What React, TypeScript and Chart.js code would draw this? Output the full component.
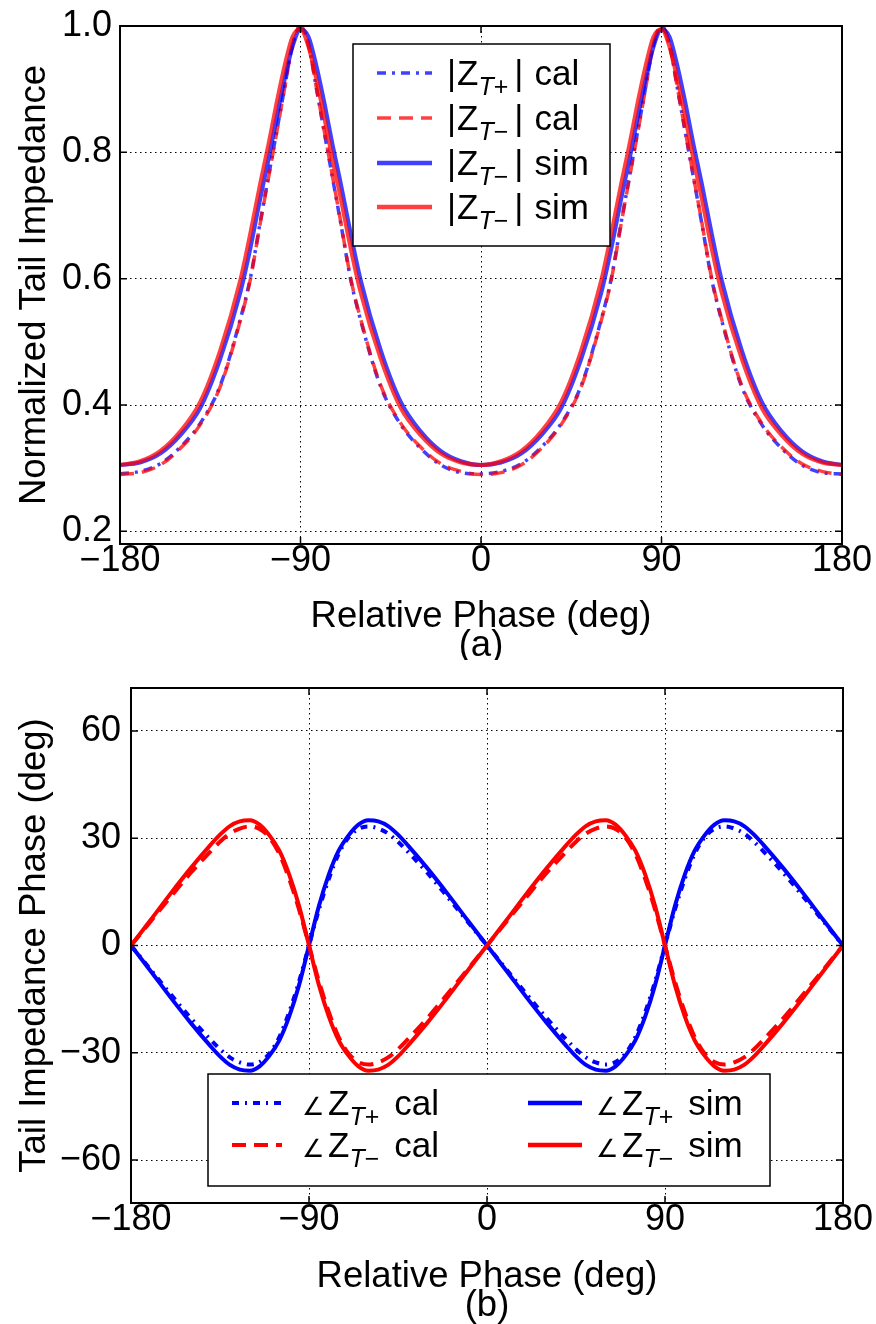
import React, { useEffect, useRef } from 'react';
import { Chart, registerables } from 'chart.js';

Chart.register(...registerables);

const FONT = "'Liberation Sans', Arial, Helvetica, sans-serif";

// ---------- (a) normalized tail impedance magnitude ----------
const magPhase = [
  -180, -170, -160, -150, -140, -130, -120, -115, -110, -106, -102, -98, -94,
  -90,
  -86, -82, -78, -74, -70, -65, -60, -50, -40, -30, -20, -10,
  0,
  10, 20, 30, 40, 50, 60, 65, 70, 74, 78, 82, 86,
  90,
  94, 98, 102, 106, 110, 115, 120, 130, 140, 150, 160, 170, 180,
];
const magBlueCal = [
  0.291, 0.295, 0.307, 0.333, 0.371, 0.431, 0.536, 0.601, 0.691, 0.761, 0.831, 0.901, 0.97,
  1.0,
  0.97, 0.90, 0.829, 0.759, 0.689, 0.599, 0.534, 0.429, 0.369, 0.331, 0.305, 0.293,
  0.291,
  0.295, 0.307, 0.333, 0.371, 0.431, 0.536, 0.601, 0.691, 0.761, 0.831, 0.901, 0.97,
  1.0,
  0.97, 0.90, 0.829, 0.759, 0.689, 0.599, 0.534, 0.429, 0.369, 0.331, 0.305, 0.293, 0.291,
];
const magRedCal = [
  0.29, 0.293, 0.305, 0.331, 0.369, 0.429, 0.534, 0.599, 0.689, 0.759, 0.829, 0.90, 0.97,
  1.0,
  0.97, 0.901, 0.831, 0.761, 0.691, 0.601, 0.536, 0.431, 0.371, 0.333, 0.307, 0.295,
  0.29,
  0.293, 0.305, 0.331, 0.369, 0.429, 0.534, 0.599, 0.689, 0.759, 0.829, 0.90, 0.97,
  1.0,
  0.97, 0.901, 0.831, 0.761, 0.691, 0.601, 0.536, 0.431, 0.371, 0.333, 0.307, 0.295, 0.29,
];
const magBlueSim = [
  0.305, 0.309, 0.323, 0.352, 0.395, 0.473, 0.578, 0.648, 0.728, 0.788, 0.853, 0.914, 0.967,
  0.995,
  0.983, 0.936, 0.877, 0.812, 0.752, 0.672, 0.598, 0.487, 0.405, 0.358, 0.327, 0.311,
  0.305,
  0.309, 0.323, 0.352, 0.395, 0.473, 0.578, 0.648, 0.728, 0.788, 0.853, 0.914, 0.967,
  0.995,
  0.983, 0.936, 0.877, 0.812, 0.752, 0.672, 0.598, 0.487, 0.405, 0.358, 0.327, 0.311, 0.305,
];
const magRedSim = [
  0.305, 0.311, 0.327, 0.358, 0.405, 0.487, 0.598, 0.672, 0.752, 0.812, 0.877, 0.936, 0.983,
  0.995,
  0.967, 0.914, 0.853, 0.788, 0.728, 0.648, 0.578, 0.473, 0.395, 0.352, 0.323, 0.309,
  0.305,
  0.311, 0.327, 0.358, 0.405, 0.487, 0.598, 0.672, 0.752, 0.812, 0.877, 0.936, 0.983,
  0.995,
  0.967, 0.914, 0.853, 0.788, 0.728, 0.648, 0.578, 0.473, 0.395, 0.352, 0.323, 0.309, 0.305,
];
const magYTicks = [0.2, 0.4, 0.6, 0.8, 1.0];
const magYTickLabels = ['0.2', '0.4', '0.6', '0.8', '1.0'];

// ---------- shared x axis ----------
const phaseXTicks = [-180, -90, 0, 90, 180];
const phaseXTickLabels = ['\u2212180', '\u221290', '0', '90', '180'];

// ---------- (b) tail impedance phase ----------
const angPhase = [
  -180, -170, -160, -150, -140, -135, -130, -125, -120, -115, -110, -105, -100, -95,
  -90, -85, -80, -75, -70, -65, -60, -55, -50, -45, -40, -30, -20, -10,
  0, 10, 20, 30, 40, 45, 50, 55, 60, 65, 70, 75, 80, 85,
  90, 95, 100, 105, 110, 115, 120, 125, 130, 135, 140, 150, 160, 170, 180,
];
const angRedSim = [
  0, 7.2, 14.5, 21.5, 28.0, 31.0, 33.4, 34.7, 35.0, 33.8, 30.8, 26.5, 19.8, 11.0,
  0, -11.0, -19.8, -26.5, -30.8, -33.8, -35.0, -34.7, -33.4, -31.0, -28.0, -21.5, -14.5, -7.2,
  0, 7.2, 14.5, 21.5, 28.0, 31.0, 33.4, 34.7, 35.0, 33.8, 30.8, 26.5, 19.8, 11.0,
  0, -11.0, -19.8, -26.5, -30.8, -33.8, -35.0, -34.7, -33.4, -31.0, -28.0, -21.5, -14.5, -7.2, 0,
];
const angBlueSim = [
  0, -7.2, -14.5, -21.5, -28.0, -31.0, -33.4, -34.7, -35.0, -33.8, -30.8, -26.5, -19.8, -11.0,
  0, 11.0, 19.8, 26.5, 30.8, 33.8, 35.0, 34.7, 33.4, 31.0, 28.0, 21.5, 14.5, 7.2,
  0, -7.2, -14.5, -21.5, -28.0, -31.0, -33.4, -34.7, -35.0, -33.8, -30.8, -26.5, -19.8, -11.0,
  0, 11.0, 19.8, 26.5, 30.8, 33.8, 35.0, 34.7, 33.4, 31.0, 28.0, 21.5, 14.5, 7.2, 0,
];
const angRedCal = [
  0, 6.8, 13.6, 20.2, 26.2, 29.0, 31.3, 32.7, 33.3, 32.6, 30.2, 25.6, 18.6, 10.0,
  0, -10.0, -18.6, -25.6, -30.2, -32.6, -33.3, -32.7, -31.3, -29.0, -26.2, -20.2, -13.6, -6.8,
  0, 6.8, 13.6, 20.2, 26.2, 29.0, 31.3, 32.7, 33.3, 32.6, 30.2, 25.6, 18.6, 10.0,
  0, -10.0, -18.6, -25.6, -30.2, -32.6, -33.3, -32.7, -31.3, -29.0, -26.2, -20.2, -13.6, -6.8, 0,
];
const angBlueCal = [
  0, -6.8, -13.6, -20.2, -26.2, -29.0, -31.3, -32.7, -33.3, -32.6, -30.2, -25.6, -18.6, -10.0,
  0, 10.0, 18.6, 25.6, 30.2, 32.6, 33.3, 32.7, 31.3, 29.0, 26.2, 20.2, 13.6, 6.8,
  0, -6.8, -13.6, -20.2, -26.2, -29.0, -31.3, -32.7, -33.3, -32.6, -30.2, -25.6, -18.6, -10.0,
  0, 10.0, 18.6, 25.6, 30.2, 32.6, 33.3, 32.7, 31.3, 29.0, 26.2, 20.2, 13.6, 6.8, 0,
];
const angYTicks = [-60, -30, 0, 30, 60];
const angYTickLabels = ['\u221260', '\u221230', '0', '30', '60'];

// ---------- styles ----------
const BLUE_A = 'rgba(0,0,255,0.75)';
const RED_A = 'rgba(255,0,0,0.75)';
const BLUE = '#0000ff';
const RED = '#ff0000';
const DASHDOT = [9, 6, 3, 6];
const DASHED = [14, 8];
const TICK_SIZE = 36;
const TITLE_SIZE = 36.5;
const LEG_SIZE = 35;
const SUB_SIZE = 25;

type Seg = { t?: string; size?: number; italic?: boolean; dy?: number; gap?: number };
type LegItem = { color: string; width: number; dash: number[]; x1: number; x2: number; y: number; tx: number; parts: Seg[] };
type LegCfg = { box: [number, number, number, number]; items: LegItem[] };

function drawParts(ctx: CanvasRenderingContext2D, x: number, y: number, parts: Seg[]) {
  let cx = x;
  ctx.fillStyle = '#000';
  ctx.textBaseline = 'alphabetic';
  ctx.textAlign = 'left';
  for (const p of parts) {
    if (p.gap) { cx += p.gap; continue; }
    ctx.font = `${p.italic ? 'italic ' : ''}${p.size}px ${FONT}`;
    ctx.fillText(p.t || '', cx, y + (p.dy || 0));
    cx += ctx.measureText(p.t || '').width;
  }
}

function magParts(sign: string, tag: string): Seg[] {
  return [
    { t: '|', size: LEG_SIZE }, { gap: 1 }, { t: 'Z', size: LEG_SIZE },
    { t: 'T', size: SUB_SIZE, italic: true, dy: 10 }, { t: sign, size: SUB_SIZE, dy: 10 },
    { gap: 6 }, { t: '|', size: LEG_SIZE }, { gap: 11 }, { t: tag, size: LEG_SIZE },
  ];
}
function angParts(sign: string, tag: string): Seg[] {
  return [
    { t: '\u2220', size: 25 }, { gap: 4 }, { t: 'Z', size: LEG_SIZE },
    { t: 'T', size: SUB_SIZE, italic: true, dy: 10 }, { t: sign, size: SUB_SIZE, dy: 10 },
    { gap: 15 }, { t: tag, size: LEG_SIZE },
  ];
}

function decorPlugin(leg: LegCfg, tickLen: number) {
  return {
    id: 'decor',
    afterDatasetsDraw(chart: any) {
      const { ctx, chartArea: a, scales } = chart;
      const xs = scales.x;
      const ys = scales.y;
      ctx.save();
      ctx.setLineDash([]);
      ctx.strokeStyle = '#000';
      ctx.lineWidth = 1.5;
      ctx.beginPath();
      for (const t of xs.ticks) {
        const px = xs.getPixelForValue(t.value);
        ctx.moveTo(px, a.bottom); ctx.lineTo(px, a.bottom - tickLen);
        ctx.moveTo(px, a.top); ctx.lineTo(px, a.top + tickLen);
      }
      for (const t of ys.ticks) {
        const py = ys.getPixelForValue(t.value);
        ctx.moveTo(a.left, py); ctx.lineTo(a.left + tickLen, py);
        ctx.moveTo(a.right, py); ctx.lineTo(a.right - tickLen, py);
      }
      ctx.stroke();
      ctx.lineWidth = 2;
      ctx.strokeRect(a.left, a.top, a.right - a.left, a.bottom - a.top);

      // legend
      const [bx, by, bw, bh] = leg.box;
      ctx.fillStyle = '#fff';
      ctx.fillRect(bx, by, bw, bh);
      ctx.lineWidth = 1.5;
      ctx.strokeStyle = '#000';
      ctx.strokeRect(bx, by, bw, bh);
      for (const it of leg.items) {
        ctx.save();
        ctx.strokeStyle = it.color;
        ctx.lineWidth = it.width;
        ctx.setLineDash(it.dash);
        ctx.lineCap = 'butt';
        ctx.beginPath();
        ctx.moveTo(it.x1, it.y);
        ctx.lineTo(it.x2, it.y);
        ctx.stroke();
        ctx.restore();
        drawParts(ctx, it.tx, it.y + 12, it.parts);
      }
      ctx.restore();
    },
  };
}

type ChartSpec = {
  w: number; h: number;
  area: { left: number; right: number; top: number; bottom: number };
  xmin: number; xmax: number; ymin: number; ymax: number;
  yTicks: number[]; yLabels: string[];
  yTitle: string; xTitle: string[];
  yTickPad: number; xTitlePadBottom: number;
  datasets: any[];
  legend: LegCfg;
};

function buildConfig(s: ChartSpec): any {
  const tickFont = { family: FONT, size: TICK_SIZE, lineHeight: 1 };
  return {
    type: 'line',
    data: { datasets: s.datasets },
    options: {
      responsive: false,
      animation: false,
      events: [],
      layout: { padding: { left: 0, top: s.area.top, right: s.w - s.area.right, bottom: 0 } },
      plugins: { legend: { display: false }, tooltip: { enabled: false } },
      elements: { point: { radius: 0 } },
      scales: {
        x: {
          type: 'linear', min: s.xmin, max: s.xmax,
          afterBuildTicks: (sc: any) => { sc.ticks = phaseXTicks.map((v) => ({ value: v })); },
          afterFit: (sc: any) => { sc.height = s.h - s.area.bottom; },
          grid: { color: '#000', lineWidth: 1, drawTicks: false },
          border: { display: false, dash: [1.5, 3.5] },
          ticks: {
            color: '#000', font: tickFont, padding: -1, maxRotation: 0, autoSkip: false,
            callback: (v: number) => phaseXTickLabels[phaseXTicks.indexOf(v)] ?? '',
          },
          title: {
            display: true, text: s.xTitle, color: '#000',
            font: { family: FONT, size: TITLE_SIZE, lineHeight: 0.78 },
            padding: { top: 0, bottom: s.xTitlePadBottom },
          },
        },
        y: {
          type: 'linear', min: s.ymin, max: s.ymax,
          afterBuildTicks: (sc: any) => { sc.ticks = s.yTicks.map((v) => ({ value: v })); },
          afterFit: (sc: any) => { sc.width = s.area.left; },
          grid: { color: '#000', lineWidth: 1, drawTicks: false },
          border: { display: false, dash: [1.5, 3.5] },
          ticks: {
            color: '#000', font: tickFont, padding: s.yTickPad, autoSkip: false,
            callback: (v: number) => {
              const i = s.yTicks.findIndex((t) => Math.abs(t - v) < 1e-9);
              return i >= 0 ? s.yLabels[i] : '';
            },
          },
          title: {
            display: true, text: s.yTitle, color: '#000',
            font: { family: FONT, size: TITLE_SIZE, lineHeight: 1.2 },
            padding: { top: 13, bottom: 0 },
          },
        },
      },
    },
    plugins: [decorPlugin(s.legend, 7)],
  };
}

function series(xs: number[], ys: number[], color: string, width: number, dash: number[], order: number) {
  return {
    data: xs.map((x, i) => ({ x, y: ys[i] })),
    borderColor: color,
    borderWidth: width,
    borderDash: dash,
    pointRadius: 0,
    fill: false,
    cubicInterpolationMode: 'monotone',
    order,
  };
}

const specA: ChartSpec = {
  w: 876, h: 660,
  area: { left: 120, right: 842, top: 25, bottom: 544 },
  xmin: -180, xmax: 180, ymin: 0.18, ymax: 1.0,
  yTicks: magYTicks, yLabels: magYTickLabels,
  yTitle: 'Normalized Tail Impedance',
  xTitle: ['Relative Phase (deg)', '(a)'],
  yTickPad: 8, xTitlePadBottom: 0,
  datasets: [
    series(magPhase, magBlueCal, BLUE_A, 3.5, DASHDOT, 3),
    series(magPhase, magRedCal, RED_A, 3.5, DASHED, 2),
    series(magPhase, magBlueSim, BLUE_A, 4, [], 1),
    series(magPhase, magRedSim, RED_A, 4, [], 0),
  ],
  legend: {
    box: [353, 44, 257, 202],
    items: [
      { color: BLUE_A, width: 3.5, dash: DASHDOT, x1: 377, x2: 432, y: 73, tx: 447, parts: magParts('+', 'cal') },
      { color: RED_A, width: 3.5, dash: DASHED, x1: 377, x2: 432, y: 118, tx: 447, parts: magParts('\u2212', 'cal') },
      { color: BLUE_A, width: 4.5, dash: [], x1: 377, x2: 432, y: 163, tx: 447, parts: magParts('\u2212', 'sim') },
      { color: RED_A, width: 4.5, dash: [], x1: 377, x2: 432, y: 207, tx: 447, parts: magParts('\u2212', 'sim') },
    ],
  },
};

const specB: ChartSpec = {
  w: 876, h: 664,
  area: { left: 131, right: 843, top: 8, bottom: 543 },
  xmin: -180, xmax: 180, ymin: -72, ymax: 72,
  yTicks: angYTicks, yLabels: angYTickLabels,
  yTitle: 'Tail Impedance Phase (deg)',
  xTitle: ['Relative Phase (deg)', '(b)'],
  yTickPad: 10, xTitlePadBottom: 4,
  datasets: [
    series(angPhase, angBlueCal, BLUE, 4, [7, 6, 2, 6], 3),
    series(angPhase, angRedCal, RED, 4, DASHED, 2),
    series(angPhase, angBlueSim, BLUE, 4, [], 1),
    series(angPhase, angRedSim, RED, 4, [], 0),
  ],
  legend: {
    box: [208, 414, 562, 112],
    items: [
      { color: BLUE, width: 4, dash: [7, 6, 2, 6], x1: 232, x2: 282, y: 443, tx: 302, parts: angParts('+', 'cal') },
      { color: RED, width: 4, dash: DASHED, x1: 232, x2: 282, y: 485, tx: 302, parts: angParts('\u2212', 'cal') },
      { color: BLUE, width: 4.5, dash: [], x1: 528, x2: 582, y: 443, tx: 596, parts: angParts('+', 'sim') },
      { color: RED, width: 4.5, dash: [], x1: 528, x2: 582, y: 485, tx: 596, parts: angParts('\u2212', 'sim') },
    ],
  },
};

function PlotCanvas({ spec }: { spec: ChartSpec }) {
  const ref = useRef<HTMLCanvasElement | null>(null);
  useEffect(() => {
    if (!ref.current) return;
    const chart = new Chart(ref.current, buildConfig(spec));
    return () => chart.destroy();
  }, [spec]);
  return <canvas ref={ref} width={spec.w} height={spec.h} style={{ display: 'block', width: spec.w, height: spec.h }} />;
}

export default function App() {
  return (
    <div style={{ position: 'absolute', left: 0, top: 0, width: 876, height: 1324, background: '#fff' }}>
      <PlotCanvas spec={specA} />
      <PlotCanvas spec={specB} />
    </div>
  );
}
